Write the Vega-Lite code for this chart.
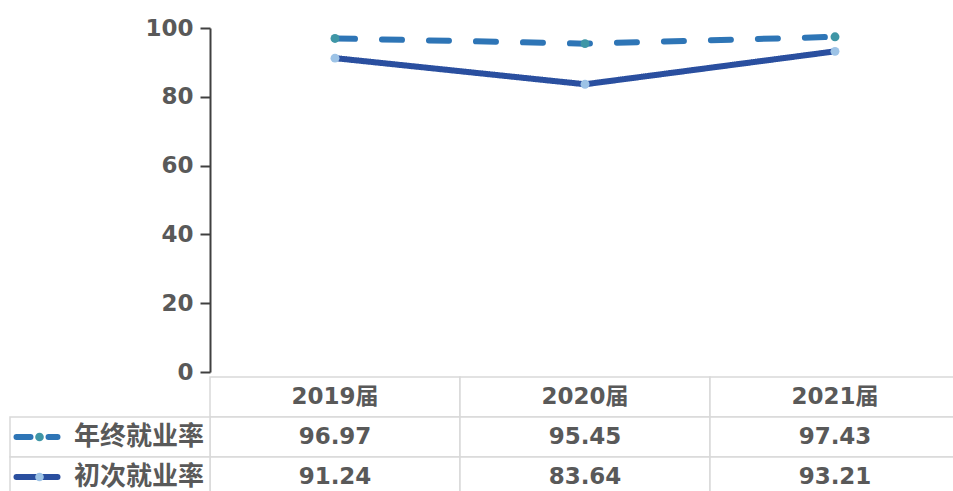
{
  "$schema": "https://vega.github.io/schema/vega-lite/v6.json",
  "width": 750,
  "height": 463,
  "autosize": {"type": "none"},
  "padding": {"left": 210, "top": 28, "right": 0, "bottom": 0},
  "background": "white",
  "config": {"view": {"stroke": null}, "font": "DejaVu Sans, Noto Sans CJK SC"},
  "data": {
    "values": [
      {"year": "2019届", "series": "年终就业率", "value": 96.97},
      {"year": "2020届", "series": "年终就业率", "value": 95.45},
      {"year": "2021届", "series": "年终就业率", "value": 97.43},
      {"year": "2019届", "series": "初次就业率", "value": 91.24},
      {"year": "2020届", "series": "初次就业率", "value": 83.64},
      {"year": "2021届", "series": "初次就业率", "value": 93.21}
    ]
  },
  "layer": [
    {
      "encoding": {
        "x": {"field": "year", "type": "nominal", "sort": ["2019届", "2020届", "2021届"], "scale": {"type": "point", "padding": 0.5}, "axis": null},
        "y": {
          "field": "value", "type": "quantitative",
          "scale": {"domain": [0, 100], "range": [344, 0], "nice": false, "zero": true},
          "axis": {"values": [0, 20, 40, 60, 80, 100], "grid": false, "title": null, "domainColor": "#404040", "domainWidth": 2, "tickColor": "#404040", "tickWidth": 2, "tickSize": 10, "labelFontSize": 23, "labelFontWeight": "bold", "labelColor": "#595959", "labelPadding": 7, "labelFont": "DejaVu Sans"}
        }
      },
      "layer": [
        {
          "mark": {"type": "line", "strokeWidth": 6, "strokeCap": "round"},
          "encoding": {
            "stroke": {"field": "series", "type": "nominal", "scale": {"domain": ["年终就业率", "初次就业率"], "range": ["#2e75b6", "#2a4f9f"]}, "legend": null},
            "strokeDash": {"field": "series", "type": "nominal", "scale": {"domain": ["年终就业率", "初次就业率"], "range": [[20, 27], [1, 0]]}, "legend": null}
          }
        },
        {
          "mark": {"type": "point", "filled": true, "size": 80, "opacity": 1},
          "encoding": {
            "fill": {"field": "series", "type": "nominal", "scale": {"domain": ["年终就业率", "初次就业率"], "range": ["#3f96a6", "#9dc3e6"]}, "legend": null}
          }
        }
      ]
    },
    {
      "encoding": {
        "y": {"field": "series", "type": "nominal", "scale": {"type": "band", "domain": ["header", "年终就业率", "初次就业率"], "range": [349, 469], "paddingInner": 0, "paddingOuter": 0}, "axis": null}
      },
      "layer": [
        {
          "encoding": {
            "x": {"field": "year", "type": "nominal", "sort": ["2019届", "2020届", "2021届"], "scale": {"type": "band", "paddingInner": 0, "paddingOuter": 0}, "axis": null}
          },
          "layer": [
            {
              "transform": [{"filter": "datum.series === '年终就业率'"}],
              "mark": {"type": "rect", "fill": "white", "stroke": "#d9d9d9", "strokeWidth": 1.5},
              "encoding": {"y": {"datum": "header", "type": "nominal", "scale": {"type": "band"}}}
            },
            {
              "transform": [{"filter": "datum.series === '年终就业率'"}],
              "mark": {"type": "text", "fontSize": 23, "fontWeight": "bold", "font": "DejaVu Sans, Noto Sans CJK SC", "color": "#595959", "baseline": "middle", "align": "center"},
              "encoding": {"y": {"datum": "header", "type": "nominal", "scale": {"type": "band"}}, "text": {"field": "year"}}
            },
            {
              "mark": {"type": "rect", "fill": "white", "stroke": "#d9d9d9", "strokeWidth": 1.5}
            },
            {
              "mark": {"type": "text", "fontSize": 23, "fontWeight": "bold", "font": "DejaVu Sans", "color": "#595959", "baseline": "middle", "align": "center"},
              "encoding": {"text": {"field": "value", "type": "quantitative", "format": ".2f"}}
            }
          ]
        },
        {
          "transform": [{"filter": "datum.year === '2019届'"}],
          "encoding": {
            "x": {"datum": "label", "type": "nominal", "scale": {"type": "band", "domain": ["label"], "range": [-200, 0], "paddingInner": 0, "paddingOuter": 0}, "axis": null}
          },
          "layer": [
            {
              "mark": {"type": "rect", "fill": "white", "stroke": "#d9d9d9", "strokeWidth": 1.5}
            },
            {
              "mark": {"type": "text", "fontSize": 26, "fontWeight": "bold", "font": "Noto Sans CJK SC", "color": "#595959", "baseline": "middle", "align": "right", "dx": -6},
              "encoding": {
                "x": {"datum": "label", "type": "nominal", "bandPosition": 1},
                "text": {"field": "series"}
              }
            },
            {
              "transform": [{"filter": "datum.series === '年终就业率'"}],
              "mark": {"type": "point", "shape": "M-1,0L1,0", "size": 1681, "filled": false, "strokeWidth": 6, "strokeCap": "round", "strokeDash": [14, 18], "opacity": 1},
              "encoding": {
                "x": {"datum": "label", "type": "nominal", "bandPosition": 0.135},
                "stroke": {"field": "series", "type": "nominal", "legend": null}
              }
            },
            {
              "transform": [{"filter": "datum.series === '初次就业率'"}],
              "mark": {"type": "point", "shape": "M-1,0L1,0", "size": 1681, "filled": false, "strokeWidth": 6, "strokeCap": "round", "opacity": 1},
              "encoding": {
                "x": {"datum": "label", "type": "nominal", "bandPosition": 0.135},
                "stroke": {"field": "series", "type": "nominal", "legend": null}
              }
            },
            {
              "mark": {"type": "point", "filled": true, "size": 75, "opacity": 1},
              "encoding": {
                "x": {"datum": "label", "type": "nominal", "bandPosition": 0.1475},
                "fill": {"field": "series", "type": "nominal", "legend": null}
              }
            }
          ],
          "resolve": {"scale": {"x": "shared"}}
        }
      ],
      "resolve": {"scale": {"x": "independent"}}
    }
  ],
  "resolve": {"scale": {"y": "independent"}, "axis": {"y": "independent"}}
}
